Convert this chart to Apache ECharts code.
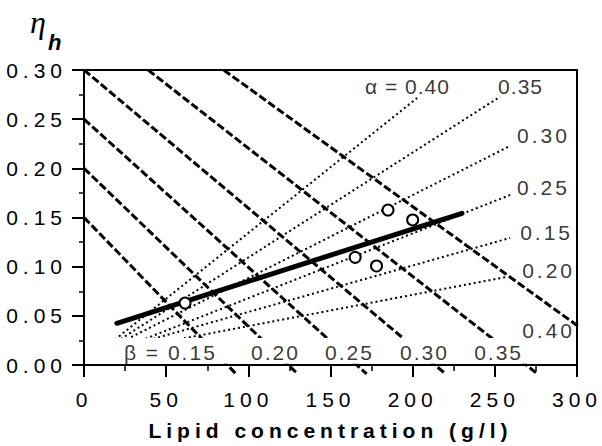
<!DOCTYPE html>
<html>
<head>
<meta charset="utf-8">
<script src="https://cdn.jsdelivr.net/npm/echarts@6/dist/echarts.min.js"></script>
<style>
html, body { margin: 0; padding: 0; background: #fff; }
#chart { width: 602px; height: 446px; }
/* the scanned figure has very loose letter spacing */
#chart text { letter-spacing: 5px; }
#chart text[fill="#010101"], #chart text[fill="rgb(1,1,1)"], #chart text[fill="rgb(1, 1, 1)"] { letter-spacing: 1px; }
#chart text[fill="#020202"], #chart text[fill="rgb(2,2,2)"], #chart text[fill="rgb(2, 2, 2)"] { letter-spacing: 3px; }
#chart text[fill="#030303"], #chart text[fill="rgb(3,3,3)"], #chart text[fill="rgb(3, 3, 3)"] { letter-spacing: 2px; }
</style>
</head>
<body>
<div id="chart"></div>
<script>
// axes
var xMin = 0, xMax = 300, xStep = 50;
var yMin = 0, yMax = 0.30, yStep = 0.05;

// measured points (open circles)
var lipid = [61.5, 165, 178, 185, 200];
var etaH = [0.063, 0.1095, 0.1007, 0.1576, 0.1475];

// thick fitted line, ends
var fitLine = [[20, 0.0424], [230, 0.1543]];

// dashed beta lines, start and end
var betaNames = ['0.15', '0.20', '0.25', '0.30', '0.35', '0.40'];
var betaFrom = [[0, 0.150], [0, 0.200], [0, 0.250], [0, 0.300], [39, 0.300], [85, 0.300]];
var betaTo = [[92.5, -0.009], [130, -0.009], [172, -0.009], [220, -0.009], [276, -0.009], [306, 0.033]];

// dotted alpha lines, start and end
var alphaNames = ['0.40', '0.35', '0.30', '0.25', '0.15', '0.20'];
var alphaFrom = [[7, 0.010], [7, 0.010], [7, 0.010], [12, 0.010], [7, 0.010], [7, 0.010]];
var alphaTo = [[202.7, 0.2715], [253.2, 0.2729], [258, 0.2217], [259.3, 0.1729], [259.3, 0.1292], [258, 0.0898]];

// line labels
var topLabels = ['\u03b1 = 0.40', '0.35'];
var topLabelAt = [[171, 0.283], [252, 0.283]];
var sideLabels = ['0.30', '0.25', '0.15', '0.20', '0.40'];
var sideLabelAt = [[262.3, 0.233], [262.3, 0.181], [264.2, 0.135], [265.4, 0.0956], [265.4, 0.0346]];
var bottomLabels = ['\u03b2 = 0.15', '0.20', '0.25', '0.30', '0.35'];
var bottomLabelAt = [[24.3, 0.0125], [101.6, 0.0125], [146.7, 0.0125], [192.3, 0.0125], [237.4, 0.0125]];

// white strip under the beta labels: x0, y0, x1, y1
var maskBand = [0.8, 0.0013, 299.3, 0.0275];

var font = 'Liberation Sans, Arial, sans-serif';
var myChart = echarts.init(document.getElementById('chart'), null, {renderer: 'svg'});

function segment(from, to, style, z){
	return {
		type : 'line',
		data : [from, to],
		symbol : 'none',
		clip : false,
		silent : true,
		z : z,
		lineStyle : style
	};
}

function labelSeries(names, at, color, size, extra){
	return {
		type : 'scatter',
		data : at,
		symbolSize : 0,
		silent : true,
		clip : false,
		z : 10,
		label : Object.assign({
			show : true,
			position : [0, 0],
			align : 'left',
			verticalAlign : 'middle',
			fontFamily : font,
			fontSize : size,
			color : color,
			formatter : function(p){ return names[p.dataIndex]; }
		}, extra || {})
	};
}

var series = [];
betaFrom.map(function(p, i){
	series.push(segment(p, betaTo[i], {color : '#000', width : 3, type : [8, 3]}, 2));
});
alphaFrom.map(function(p, i){
	series.push(segment(p, alphaTo[i], {color : '#000', width : 2, type : [2, 3]}, 2));
});
series.push({
	type : 'custom',
	data : [maskBand],
	silent : true,
	clip : false,
	z : 3,
	renderItem : function(params, api){
		var a = api.coord([api.value(0), api.value(3)]);
		var b = api.coord([api.value(2), api.value(1)]);
		return {
			type : 'rect',
			shape : {x : a[0], y : a[1], width : b[0] - a[0], height : b[1] - a[1]},
			style : {fill : '#fff'}
		};
	}
});
series.push(segment(fitLine[0], fitLine[1], {color : '#000', width : 5, cap : 'round'}, 4));
series.push({
	type : 'scatter',
	data : lipid.map(function(x, i){ return [x, etaH[i]]; }),
	symbol : 'circle',
	symbolSize : 11,
	silent : true,
	z : 5,
	itemStyle : {color : '#fff', borderColor : '#000', borderWidth : 2, opacity : 1}
});
series.push(labelSeries(topLabels, topLabelAt, '#010101', 21));
series.push(labelSeries(sideLabels, sideLabelAt, '#020202', 21, {backgroundColor : '#fff', padding : [1, 2]}));
series.push(labelSeries(bottomLabels, bottomLabelAt, '#030303', 21));

var option = {
	animation : false,
	backgroundColor : '#fff',
	title : [
		{text : '\u03b7', left : 30, top : 6, padding : 0,
			textStyle : {fontFamily : 'Liberation Serif', fontStyle : 'italic', fontWeight : 'normal', fontSize : 32, color : '#000'}},
		{text : 'h', left : 48, top : 31, padding : 0,
			textStyle : {fontFamily : font, fontStyle : 'italic', fontWeight : 'bold', fontSize : 22, color : '#000'}}
	],
	grid : {
		left : 84, right : 25, top : 70, bottom : 81,
		show : true, borderColor : '#000', borderWidth : 2
	},
	xAxis : {
		type : 'value',
		min : xMin, max : xMax, interval : xStep,
		name : 'Lipid concentration (g/l)',
		nameLocation : 'middle',
		nameGap : 55,
		nameTextStyle : {fontFamily : font, fontWeight : 'bold', fontSize : 21, color : '#000'},
		axisLine : {onZero : false, lineStyle : {color : '#000', width : 2}},
		axisTick : {length : 12, lineStyle : {color : '#000', width : 2}},
		minorTick : {show : true, splitNumber : 2, length : 6, lineStyle : {color : '#000', width : 1.5}},
		axisLabel : {margin : 24, fontFamily : font, fontSize : 21, color : '#000'},
		splitLine : {show : false}
	},
	yAxis : {
		type : 'value',
		min : yMin, max : yMax, interval : yStep,
		axisLine : {onZero : false, lineStyle : {color : '#000', width : 2}},
		axisTick : {length : 12, lineStyle : {color : '#000', width : 2}},
		minorTick : {show : true, splitNumber : 2, length : 5, lineStyle : {color : '#000', width : 1.5}},
		axisLabel : {margin : 17, fontFamily : font, fontSize : 21, color : '#000',
			formatter : function(v){ return v.toFixed(2); }},
		splitLine : {show : false}
	},
	series : series
};
myChart.setOption(option);
</script>
</body>
</html>
